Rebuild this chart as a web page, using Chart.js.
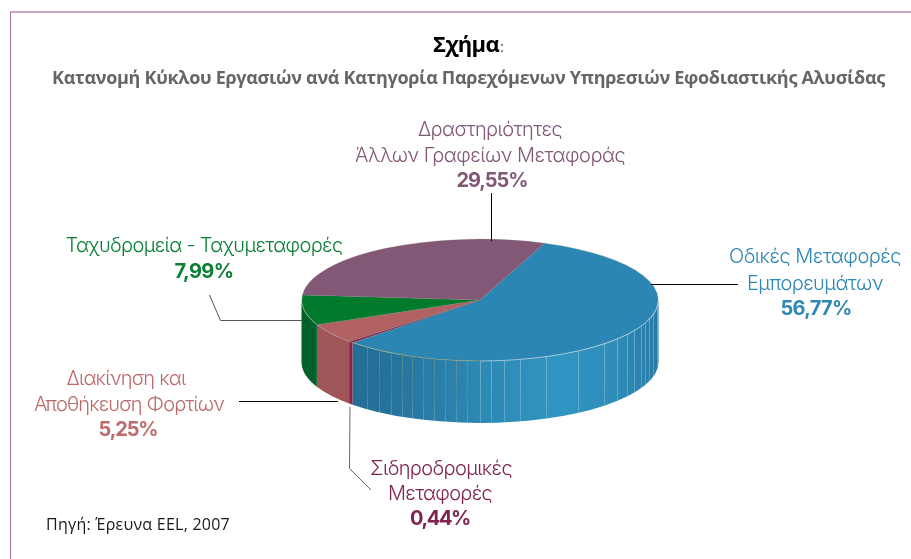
<!DOCTYPE html>
<html lang="el"><head><meta charset="utf-8">
<style>html,body{margin:0;padding:0;background:#fff}#w{position:relative;width:911px;height:559px;overflow:hidden}canvas{position:absolute;left:0;top:0}</style>
<script src="https://cdn.jsdelivr.net/npm/chart.js@4"></script></head>
<body><div id="w"><canvas id="c" width="911" height="559"></canvas></div>
<script>
const categories = ["Οδικές Μεταφορές Εμπορευμάτων","Σιδηροδρομικές Μεταφορές","Διακίνηση και Αποθήκευση Φορτίων","Ταχυδρομεία - Ταχυμεταφορές","Δραστηριότητες Άλλων Γραφείων Μεταφοράς"];
const values = [56.77,0.44,5.25,7.99,29.55];
const topColors = ["#2c86b3","#8c1f4d","#b26162","#017a2b","#835877"];
const wallColors = [null,"#8c1f4d","#a05558","#00622a","#6f4a66"];
const FONT = '"Open Sans"', LABEL_FONT='Inter';
const titleText = "Σχήμα", subtitleText = "Κατανομή Κύκλου Εργασιών ανά Κατηγορία Παρεχόμενων Υπηρεσιών Εφοδιαστικής Αλυσίδας", sourceText = "Πηγή: Έρευνα EEL, 2007";
const pct = i => values[i].toFixed(2).replace(".",",")+"%";
const CX=480, CY=300, RX=178.5, RY=61, DEPTH=62;
const ribAngles=[8,14.3,18.7,22.5,25.6,30.3,34.6,39.9,46,56.7,68.3,77,82.3,86.5,90,94.2,97.7,101.3,105,108.7,112.4,115.9,119.9,124.5,129.3];
const labels=[
 {c:"#2e87b5",lines:[["Οδικές Μεταφορές",815,263,172],["Εμπορευμάτων",815,290,136]],i:0,p:[816,315,71]},
 {c:"#7f2450",lines:[["Σιδηροδρομικές",441,475,142],["Μεταφορές",440,500,104]],i:1,p:[440,525,60]},
 {c:"#bd6a6b",lines:[["Διακίνηση και",126,385,119],["Αποθήκευση Φορτίων",129,411,190]],i:2,p:[128,436,59]},
 {c:"#0b7f35",lines:[["Ταχυδρομεία - Ταχυμεταφορές",204,252,277]],i:3,p:[204,278,59]},
 {c:"#835877",lines:[["Δραστηριότητες",490,136,144],["Άλλων Γραφείων Μεταφοράς",490,162,270]],i:4,p:[492,187,71]}
];
const leaders=[
 {c:"#000",w:1,pts:[[491.5,193],[491.5,241]]},
 {c:"#000",w:1,pts:[[651,284.5],[738,284.5]]},
 {c:"#555",w:1,pts:[[209.5,295],[220.5,320.5],[302,320.5]]},
 {c:"#000",w:1,pts:[[239,401.5],[338,401.5]]},
 {c:"#666",w:1,pts:[[350,407],[349.5,468.5],[371,490]]}
];
function txt(ctx,s,x,y,font,color,w,align){
 ctx.font=font;ctx.fillStyle=color;ctx.textAlign=align||"center";ctx.textBaseline="alphabetic";ctx.letterSpacing="0px";
 if(w){const m=ctx.measureText(s).width;ctx.letterSpacing=((w-m)/s.length).toFixed(3)+"px";}
 ctx.fillText(s,x,y);ctx.letterSpacing="0px";
}
const pie3d={id:"pie3d",
 beforeDatasetsDraw(chart){
  const ctx=chart.ctx,arcs=chart.getDatasetMeta(0).data;
  ctx.save();
  const g=ctx.createLinearGradient(CX-RX,0,CX+RX,0);
  g.addColorStop(0,"#24709a");g.addColorStop(.2,"#246f97");g.addColorStop(.5,"#2d88b4");g.addColorStop(.72,"#3195c3");g.addColorStop(.88,"#2f8cb8");g.addColorStop(1,"#297aa6");
  arcs.forEach((a,i)=>{
   const a0=Math.max(a.startAngle,0),a1=Math.min(a.endAngle,Math.PI);
   if(a1<=a0)return;
   ctx.beginPath();ctx.ellipse(a.x,a.y,RX,RY,0,a0,a1);ctx.ellipse(a.x,a.y+DEPTH,RX,RY,0,a1,a0,true);ctx.closePath();
   ctx.fillStyle=wallColors[i]||g;ctx.fill();
  });
  ribAngles.forEach(d=>{
   const t=d*Math.PI/180,x=CX+RX*Math.cos(t),y=CY+RY*Math.sin(t);
   const rg=ctx.createLinearGradient(0,y,0,y+DEPTH);
   if(d>90){rg.addColorStop(0,"rgba(140,160,110,.5)");rg.addColorStop(.55,"rgba(130,165,150,.25)");rg.addColorStop(1,"rgba(170,205,225,.35)");}
   else{rg.addColorStop(0,"rgba(190,225,240,.4)");rg.addColorStop(1,"rgba(190,225,240,.3)");}
   ctx.strokeStyle=rg;ctx.lineWidth=1;ctx.beginPath();ctx.moveTo(Math.round(x)+.5,y);ctx.lineTo(Math.round(x)+.5,y+DEPTH);ctx.stroke();
  });
  ctx.restore();
  ctx.save();ctx.translate(CX,CY);ctx.scale(1,RY/RX);ctx.translate(-CX,-CY);
 },
 afterDatasetsDraw(chart){
  const ctx=chart.ctx,a=chart.getDatasetMeta(0).data[0];
  ctx.restore();
  ctx.save();ctx.lineWidth=1;
  ctx.strokeStyle="rgba(175,215,232,.7)";ctx.beginPath();ctx.ellipse(CX,CY,RX,RY,0,0.02,Math.PI/2);ctx.stroke();
  ctx.strokeStyle="rgba(150,165,110,.45)";ctx.beginPath();ctx.ellipse(CX,CY,RX,RY,0,Math.PI/2,a.endAngle);ctx.stroke();
  ctx.restore();
 },
 afterDraw(chart){
  const ctx=chart.ctx;ctx.save();
  ctx.fillStyle="#c9a9c5";ctx.fillRect(10,11,901,2);
  ctx.fillStyle="#a8719f";ctx.fillRect(10,12,1,547);
  txt(ctx,titleText,466,52,'bold 22px '+FONT,"#000",66);
  txt(ctx,":",502,52,'15px '+FONT,"#555");
  txt(ctx,subtitleText,468.5,84,'bold 18px '+FONT,"#666",833);
  txt(ctx,sourceText,46,530,'16px '+FONT,"#1a1a1a",184,"left");
  leaders.forEach(l=>{ctx.strokeStyle=l.c;ctx.lineWidth=l.w;ctx.beginPath();l.pts.forEach((p,i)=>i?ctx.lineTo(p[0],p[1]):ctx.moveTo(p[0],p[1]));ctx.stroke();});
  labels.forEach(l=>{
   l.lines.forEach(k=>txt(ctx,k[0],k[1],k[2],'300 20px '+LABEL_FONT,l.c,k[3]));
   txt(ctx,pct(l.i),l.p[0],l.p[1],'bold 20px '+LABEL_FONT,l.c,l.p[2]);
  });
  ctx.restore();
 }
};
new Chart(document.getElementById("c"),{
 type:"pie",
 data:{labels:categories,datasets:[{data:values,backgroundColor:topColors,borderColor:"rgba(130,130,130,.55)",borderWidth:.7}]},
 options:{responsive:false,animation:false,events:[],rotation:21.2,
  layout:{padding:{left:CX-RX,right:911-CX-RX,top:CY-RX,bottom:559-CY-RX}},
  plugins:{legend:{display:false},tooltip:{enabled:false},title:{display:false}}},
 plugins:[pie3d]
});
</script></body></html>
